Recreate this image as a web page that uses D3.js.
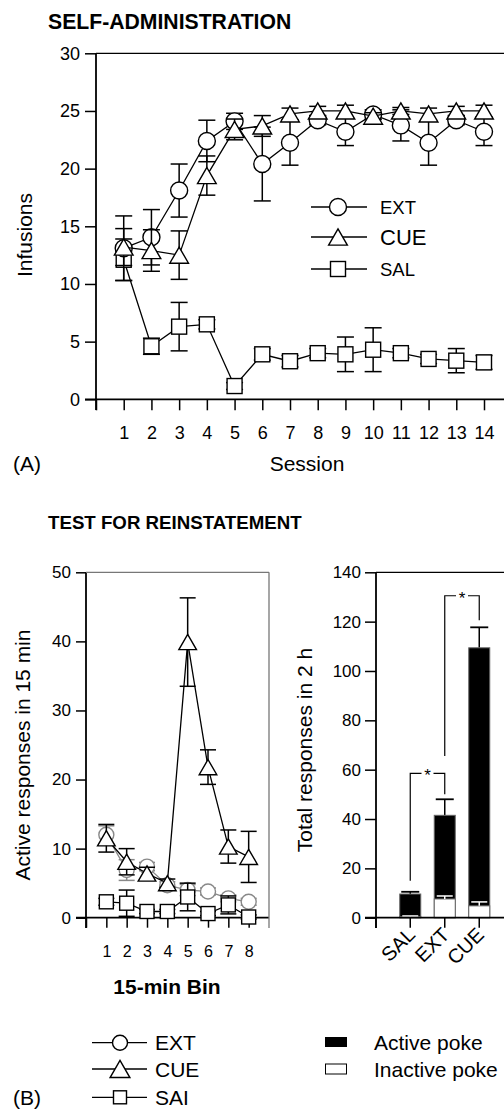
<!DOCTYPE html>
<html><head><meta charset="utf-8">
<script src="https://cdn.jsdelivr.net/npm/d3@7"></script>
<style>
html,body{margin:0;padding:0;background:#fff;}
svg{display:block;font-family:"Liberation Sans",Arial,Helvetica,sans-serif;}
</style></head>
<body><svg id="c" width="504" height="1113"></svg>
<script>
// ---------- DATA ----------
const sessions = [1,2,3,4,5,6,7,8,9,10,11,12,13,14];
const extInf    = [13.1,14.05,18.1,22.4,24.1,20.4,22.25,24.2,23.2,24.7,23.75,22.25,24.2,23.2];
const extInfErr = [2.8,2.4,2.3,1.8,0.7,3.2,1.95,0.4,1.2,0.4,1.35,1.95,0.4,1.2];
const cueInf    = [13.2,12.9,12.5,19.4,23.4,23.7,24.75,25.0,25.0,24.55,25.0,24.75,25.0,25.0];
const cueInfErr = [1.6,1.8,2.1,1.7,0.9,0.9,0.5,0.4,0.5,0.3,0.3,0.5,0.4,0.5];
const salInf    = [12.1,4.6,6.3,6.5,1.15,3.9,3.3,4.0,3.9,4.3,4.0,3.5,3.35,3.2];
const salInfErr = [1.8,0.7,2.1,0.4,0.3,0.5,0.5,0.4,1.5,1.9,0.4,0.4,1.05,0.6];
const infTicks  = [0,5,10,15,20,25,30];

const bins      = [1,2,3,4,5,6,7,8];
const cueBin    = [11.5,8.1,6.4,5.0,39.9,21.8,10.3,8.8];
const cueBinErr = [2.0,1.9,0.9,0.6,6.4,2.5,2.4,3.7];
const extBin    = [12.0,6.9,7.4,4.7,4.0,3.8,2.8,2.3];
const extBinErr = [1.3,1.5,0.6,0.5,0.8,0.5,0.5,0.5];
const salBin    = [2.3,2.1,0.9,0.9,3.0,0.6,1.85,0.1];
const salBinErr = [0.5,1.9,0.3,0.3,2.0,0.3,1.3,0.3];
const binTicks  = [0,10,20,30,40,50];

const groups      = ["SAL","EXT","CUE"];
const activeTot   = [9.6,41.5,109.4];
const activeErr   = [0.9,6.5,8.3];
const inactiveTot = [0.5,7.6,4.8];
const inactiveErr = [0.2,1.2,1.6];
const totTicks    = [0,20,40,60,80,100,120,140];
// significance brackets: [from group, to group], level, left start, right end
const sigPairs  = [[0,1],[1,2]];
const sigLevel  = [58.5,130.5];
const sigLeftLo = [15,65.5];
const sigRightLo= [50,120.6];

// ---------- HELPERS ----------
const svg = d3.select("#c");
svg.append("rect").attr("width",504).attr("height",1113).attr("fill","#fff");
const FONT = '"Liberation Sans",Arial,Helvetica,sans-serif';

function marker(g, type, x, y, size, stroke){
  stroke = stroke || "#000";
  if(type==="circle"){
    g.append("circle").attr("cx",x).attr("cy",y).attr("r",size/2)
      .attr("fill","#fff").attr("stroke",stroke).attr("stroke-width",1.4);
  } else if(type==="square"){
    g.append("rect").attr("x",x-size/2).attr("y",y-size/2).attr("width",size).attr("height",size)
      .attr("fill","#fff").attr("stroke",stroke).attr("stroke-width",1.4);
  } else {
    const w=size*1.1, h=size*0.95;
    g.append("path").attr("d",`M${x},${y-h/2}L${x+w/2},${y+h/2}L${x-w/2},${y+h/2}Z`)
      .attr("fill","#fff").attr("stroke",stroke).attr("stroke-width",1.4);
  }
}
function series(g, xs, vals, errs, x, y, type, size, cap, stroke){
  stroke = stroke || "#000";
  const eg = g.append("g").attr("stroke",stroke).attr("stroke-width",1.5);
  xs.forEach((s,i)=>{
    const cx=x(s);
    eg.append("line").attr("x1",cx).attr("x2",cx).attr("y1",y(vals[i]-errs[i])).attr("y2",y(vals[i]+errs[i]));
    [vals[i]-errs[i], vals[i]+errs[i]].forEach(v=>{
      eg.append("line").attr("x1",cx-cap/2).attr("x2",cx+cap/2).attr("y1",y(v)).attr("y2",y(v));
    });
  });
  g.append("path").datum(vals).attr("fill","none").attr("stroke",stroke).attr("stroke-width",1.3)
    .attr("d", d3.line().x((d,i)=>x(xs[i])).y(d=>y(d)));
  const mg = g.append("g");
  xs.forEach((s,i)=>marker(mg,type,x(s),y(vals[i]),size,stroke));
}
function styleAxis(a, fs){
  a.selectAll("text").attr("font-family",FONT).attr("font-size",fs).attr("fill","#000");
  a.selectAll("line").attr("stroke","#000").attr("stroke-width",1.5);
  a.select(".domain").remove();
}

// ---------- PANEL A ----------
const gA = svg.append("g");
const xA = d3.scaleLinear().domain([0,14]).range([96,484]);
const yA = d3.scaleLinear().domain([0,30]).range([399.3,53.3]);

gA.append("text").attr("x",48).attr("y",29).attr("font-weight","bold").attr("font-size",21.2)
  .text("SELF-ADMINISTRATION");

const axAy = gA.append("g").attr("transform","translate(96,0)")
  .call(d3.axisLeft(yA).tickValues(infTicks).tickSize(11).tickPadding(5));
styleAxis(axAy,18);
const axAx = gA.append("g").attr("transform","translate(0,399.3)")
  .call(d3.axisBottom(xA).tickValues(d3.range(0,15)).tickSize(11).tickPadding(16)
    .tickFormat(d=>d===0?"":d));
styleAxis(axAx,18);
gA.append("line").attr("x1",96).attr("x2",96).attr("y1",53.3).attr("y2",410).attr("stroke","#000").attr("stroke-width",1.8);
gA.append("line").attr("x1",85).attr("x2",504).attr("y1",399.3).attr("y2",399.3).attr("stroke","#000").attr("stroke-width",1.8);
gA.append("line").attr("x1",96).attr("x2",504).attr("y1",53.3).attr("y2",53.3).attr("stroke","#000").attr("stroke-width",1.3);

gA.append("text").attr("transform","translate(32,235) rotate(-90)").attr("text-anchor","middle")
  .attr("font-size",21).text("Infusions");
gA.append("text").attr("x",307).attr("y",471).attr("text-anchor","middle").attr("font-size",21).text("Session");
gA.append("text").attr("x",13).attr("y",471).attr("font-size",21).text("(A)");

series(gA, sessions, salInf, salInfErr, xA, yA, "square", 15, 17);
series(gA, sessions, extInf, extInfErr, xA, yA, "circle", 17, 17);
series(gA, sessions, cueInf, cueInfErr, xA, yA, "triangle", 17, 17);

// legend A
const legA = [["circle","EXT",207,18.5],["triangle","CUE",237,22],["square","SAL",269,18.5]];
legA.forEach(([t,lab,yy,fs])=>{
  gA.append("line").attr("x1",311).attr("x2",367).attr("y1",yy).attr("y2",yy).attr("stroke","#000").attr("stroke-width",1.3);
  marker(gA,t,338,yy,t==="square"?15:17);
  gA.append("text").attr("x",380).attr("y",yy).attr("dy","0.36em").attr("font-size",fs).text(lab);
});

// ---------- PANEL B ----------
const gB = svg.append("g");
gB.append("text").attr("x",48).attr("y",529).attr("font-weight","bold").attr("font-size",18.7)
  .text("TEST FOR REINSTATEMENT");

// left: bins
const xB = d3.scaleLinear().domain([0,9]).range([86,269]);
const yB = d3.scaleLinear().domain([0,50]).range([917.7,572.3]);
const axBy = gB.append("g").attr("transform","translate(86,0)")
  .call(d3.axisLeft(yB).tickValues(binTicks).tickSize(10).tickPadding(5));
styleAxis(axBy,17);
const axBx = gB.append("g").attr("transform","translate(0,917.7)")
  .call(d3.axisBottom(xB).tickValues(d3.range(0,9)).tickSize(10).tickPadding(18)
    .tickFormat(d=>d===0?"":d));
styleAxis(axBx,16);
gB.append("line").attr("x1",86).attr("x2",86).attr("y1",572.3).attr("y2",928).attr("stroke","#000").attr("stroke-width",1.8);
gB.append("line").attr("x1",76).attr("x2",269).attr("y1",917.7).attr("y2",917.7).attr("stroke","#000").attr("stroke-width",1.8);
gB.append("line").attr("x1",86).attr("x2",269).attr("y1",572.3).attr("y2",572.3).attr("stroke","#777").attr("stroke-width",1.3);
gB.append("line").attr("x1",269).attr("x2",269).attr("y1",572.3).attr("y2",928).attr("stroke","#777").attr("stroke-width",1.3);

gB.append("text").attr("transform","translate(30,755) rotate(-90)").attr("text-anchor","middle")
  .attr("font-size",21).text("Active responses in 15 min");
gB.append("text").attr("x",167).attr("y",994).attr("text-anchor","middle").attr("font-weight","bold")
  .attr("font-size",21).text("15-min Bin");

series(gB, bins, extBin, extBinErr, xB, yB, "circle", 15, 16, "#888");
series(gB, bins, salBin, salBinErr, xB, yB, "square", 14, 16);
series(gB, bins, cueBin, cueBinErr, xB, yB, "triangle", 16, 16);

// right: bars
const xC = d3.scaleBand().domain(groups).range([393,496.5]).paddingInner(0.4).paddingOuter(0.2);
const yC = d3.scaleLinear().domain([0,140]).range([917.7,572.3]);
const cx = g => xC(g)+xC.bandwidth()/2;
const axCy = gB.append("g").attr("transform","translate(376,0)")
  .call(d3.axisLeft(yC).tickValues(totTicks).tickSize(11).tickPadding(4));
styleAxis(axCy,17);
gB.append("text").attr("transform","translate(312,750) rotate(-90)").attr("text-anchor","middle")
  .attr("font-size",21).text("Total responses in 2 h");

// active bars
groups.forEach((g,i)=>{
  const bx=cx(g), bw=21;
  gB.append("line").attr("x1",bx).attr("x2",bx).attr("y1",yC(activeTot[i])).attr("y2",yC(activeTot[i]+activeErr[i])).attr("stroke","#000").attr("stroke-width",1.5);
  gB.append("line").attr("x1",bx-9).attr("x2",bx+9).attr("y1",yC(activeTot[i]+activeErr[i])).attr("y2",yC(activeTot[i]+activeErr[i])).attr("stroke","#000").attr("stroke-width",1.8);
  gB.append("rect").attr("x",bx-bw/2).attr("y",yC(activeTot[i])).attr("width",bw).attr("height",yC(0)-yC(activeTot[i]))
    .attr("fill","#000").attr("stroke","#666").attr("stroke-width",1);
  gB.append("rect").attr("x",bx-bw/2).attr("y",yC(inactiveTot[i])).attr("width",bw).attr("height",yC(0)-yC(inactiveTot[i]))
    .attr("fill","#fff").attr("stroke","#666").attr("stroke-width",1);
  const top=inactiveTot[i]+inactiveErr[i];
  gB.append("line").attr("x1",bx).attr("x2",bx).attr("y1",yC(inactiveTot[i])).attr("y2",yC(top)).attr("stroke","#fff").attr("stroke-width",1.5);
  gB.append("line").attr("x1",bx-8).attr("x2",bx+8).attr("y1",yC(top)).attr("y2",yC(top)).attr("stroke","#fff").attr("stroke-width",1.5);
});
// axes lines
const axCx = gB.append("g").attr("transform","translate(0,917.7)")
  .call(d3.axisBottom(xC).tickSize(10).tickFormat(""));
axCx.selectAll("line").attr("stroke","#000").attr("stroke-width",1.5);
axCx.select(".domain").remove();
gB.append("line").attr("x1",376).attr("x2",376).attr("y1",917.7).attr("y2",928).attr("stroke","#000").attr("stroke-width",1.5);
gB.append("line").attr("x1",376).attr("x2",376).attr("y1",572.3).attr("y2",928).attr("stroke","#000").attr("stroke-width",1.8);
gB.append("line").attr("x1",365).attr("x2",504).attr("y1",917.7).attr("y2",917.7).attr("stroke","#000").attr("stroke-width",1.8);
gB.append("line").attr("x1",376).attr("x2",504).attr("y1",572.3).attr("y2",572.3).attr("stroke","#000").attr("stroke-width",1.3);

groups.forEach(g=>{
  gB.append("text").attr("transform",`translate(${cx(g)+6},${936}) rotate(-45)`).attr("text-anchor","end")
    .attr("font-size",20).text(g);
});

// significance brackets
sigPairs.forEach(([a,b],i)=>{
  const x1=cx(groups[a]), x2=cx(groups[b]), yl=yC(sigLevel[i]);
  const mid=(x1+x2)/2;
  gB.append("path").attr("fill","none").attr("stroke","#000").attr("stroke-width",1.2)
    .attr("d",`M${x1},${yC(sigLeftLo[i])}V${yl}H${mid-6}M${mid+6},${yl}H${x2}V${yC(sigRightLo[i])}`);
  gB.append("text").attr("x",mid).attr("y",yl+8).attr("text-anchor","middle").attr("font-size",17).text("*");
});

// legends B
const legB = [["circle","EXT",1042.7],["triangle","CUE",1069],["square","SAI",1097.3]];
legB.forEach(([t,lab,yy])=>{
  gB.append("line").attr("x1",92).attr("x2",147).attr("y1",yy).attr("y2",yy).attr("stroke","#000").attr("stroke-width",1.3);
  marker(gB,t,120,yy,t==="square"?13:(t==="triangle"?18:15));
  gB.append("text").attr("x",155).attr("y",yy).attr("dy","0.36em").attr("font-size",21).text(lab);
});
gB.append("text").attr("x",13).attr("y",1097.3).attr("dy","0.36em").attr("font-size",21).text("(B)");
gB.append("rect").attr("x",325).attr("y",1037).attr("width",22).attr("height",10).attr("fill","#000");
gB.append("rect").attr("x",325.5).attr("y",1064).attr("width",21).attr("height",10).attr("fill","#fff").attr("stroke","#000").attr("stroke-width",1);
gB.append("text").attr("x",374).attr("y",1042).attr("dy","0.36em").attr("font-size",21).text("Active poke");
gB.append("text").attr("x",374).attr("y",1069).attr("dy","0.36em").attr("font-size",21).text("Inactive poke");
</script></body></html>
